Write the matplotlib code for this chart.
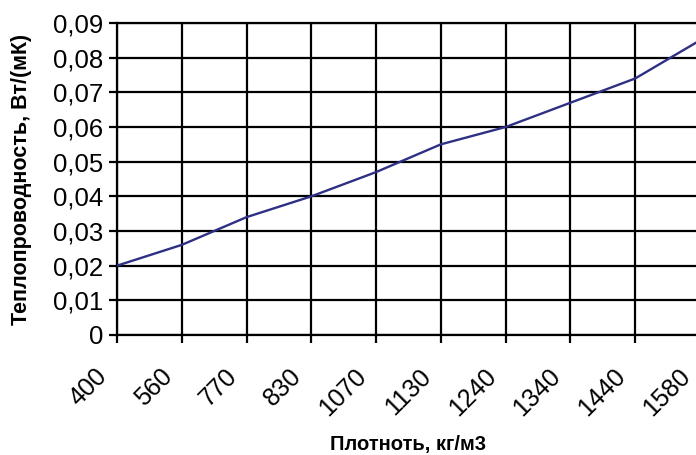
import matplotlib
matplotlib.use('Agg')
from matplotlib import pyplot as plt
from matplotlib import transforms
import numpy as np

# categories (density) and values
density = ['400', '560', '770', '830', '1070', '1130', '1240', '1340', '1440', '1580']
conductivity = [0.020, 0.026, 0.034, 0.040, 0.047, 0.055, 0.060, 0.067, 0.074, 0.085]
y_ticks = [0, 0.01, 0.02, 0.03, 0.04, 0.05, 0.06, 0.07, 0.08, 0.09]
y_ticklabels = ['0', '0,01', '0,02', '0,03', '0,04', '0,05', '0,06', '0,07', '0,08', '0,09']

plt.rcParams['font.family'] = ['Liberation Sans', 'DejaVu Sans']

fig = plt.figure(figsize=(6.96, 4.55), dpi=100)
# the plot area runs a bit past the right edge of the picture, like the original
ax = fig.add_axes([117 / 696, 1 - 335 / 455, (700 - 117) / 696, (335 - 23) / 455])

pos = np.arange(len(density))
ax.plot(pos, conductivity, color='#2e3084', lw=1.7, zorder=3)

ax.set_xlim(0, len(density) - 1)
ax.set_ylim(0, 0.09)
ax.set_xticks(pos)
ax.set_xticklabels(density, rotation=45, ha='right', va='top',
                   rotation_mode='anchor', fontsize=18)
ax.set_yticks(y_ticks)
ax.set_yticklabels(y_ticklabels, fontsize=18.5)

ax.grid(True, color='black', lw=1.6)
for s in ax.spines.values():
    s.set_linewidth(1.6)
    s.set_color('black')
ax.tick_params(axis='both', direction='out', length=6, width=1.6, color='black')
ax.tick_params(axis='x', pad=15)
ax.tick_params(axis='y', pad=4)

# shift the rotated labels to the left so they end under the tick
shift = transforms.ScaledTranslation(-22 / 100, 0, fig.dpi_scale_trans)
for lbl in ax.get_xticklabels():
    lbl.set_transform(lbl.get_transform() + shift)

ax.set_xlabel('Плотноть, кг/м3', fontsize=14.5, fontweight='bold')
ax.xaxis.set_label_coords(0.5, -0.322)
ax.set_ylabel('Теплопроводность, Вт/(мК)', fontsize=15.5, fontweight='bold')
ax.yaxis.set_label_coords(-0.145, 0.5)

plt.savefig('out.png', dpi=100, format='png')
